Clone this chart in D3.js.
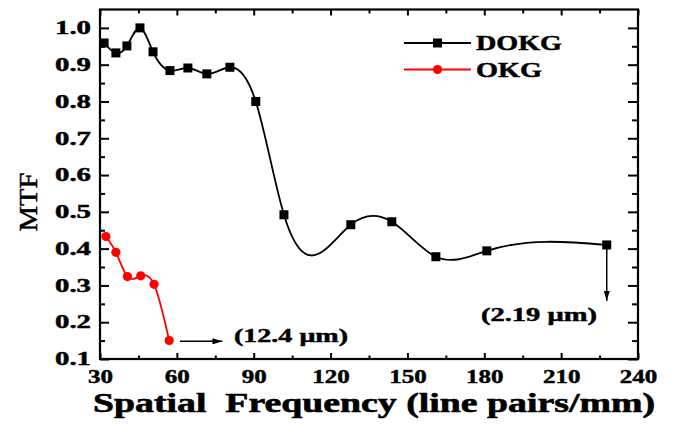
<!DOCTYPE html>
<html>
<head>
<meta charset="utf-8">
<script src="https://cdn.jsdelivr.net/npm/d3@7"></script>
<style>
    body { margin: 0; background: #fff; }
    svg text { font-family: "Times New Roman", "Liberation Serif", serif; font-weight: bold; fill: #000;
               stroke: #000; stroke-width: 0.45px; }
    .axis path, .axis line { stroke: #000; }
</style>
</head>
<body>
<div id="svgDiv"></div>
<script>
// data
var dokgFreq = [31.6, 36.2, 40.5, 45.6, 50.7, 57.3, 64.3, 71.7, 80.7, 90.8, 101.8, 127.9, 143.9, 161.1, 181.0, 227.8];
var dokgMtf  = [0.959, 0.932, 0.951, 1.0, 0.935, 0.884, 0.891, 0.875, 0.893, 0.80, 0.492, 0.465, 0.473, 0.378, 0.394, 0.41];
var okgFreq  = [32.3, 36.2, 40.7, 45.9, 51.1, 57.0];
var okgMtf   = [0.433, 0.390, 0.324, 0.326, 0.303, 0.150];

var xTicks = [30, 60, 90, 120, 150, 180, 210, 240];
var xMinorTicks = [45, 75, 105, 135, 165, 195, 225];
var yTicks = [0.1, 0.2, 0.3, 0.4, 0.5, 0.6, 0.7, 0.8, 0.9, 1.0];
var yMinorTicks = [0.15, 0.25, 0.35, 0.45, 0.55, 0.65, 0.75, 0.85, 0.95];

var seriesNames = ["DOKG", "OKG"];
var seriesColors = ["#000000", "#ff0000"];

// annotations (data units)
var note1 = { text: "(12.4 \u03bcm)", x1: 61.2, x2: 77.8, y: 0.148, tx: 82.3, ty: 0.145 };
var note2 = { text: "(2.19 \u03bcm)", x: 227.8, y1: 0.40, y2: 0.258, tx: 178.7, ty: 0.203 };

var W = 675, H = 424;
var plot = { left: 100, right: 638, top: 9.5, bottom: 359 };

var svg = d3.select("#svgDiv").append("svg")
    .attr("width", W).attr("height", H);

var xScale = d3.scaleLinear().domain([30, 240]).range([plot.left, plot.right]);
var yScale = d3.scaleLinear().domain([0.1, 1.05]).range([plot.bottom, plot.top]);

svg.append("defs").append("marker")
    .attr("id", "head")
    .attr("viewBox", "0 0 10 6")
    .attr("refX", 10).attr("refY", 3)
    .attr("markerWidth", 10).attr("markerHeight", 6)
    .attr("markerUnits", "userSpaceOnUse")
    .attr("orient", "auto")
    .append("path").attr("d", "M0,0 L10,3 L0,6 Z").attr("fill", "#000");

// natural cubic spline of y over x (like the plotting program's spline connect)
function SplineX(context) { this._context = context; }
SplineX.prototype = {
    areaStart: function() {},
    areaEnd: function() {},
    lineStart: function() { this._x = []; this._y = []; },
    point: function(x, y) { this._x.push(+x); this._y.push(+y); },
    lineEnd: function() {
        var x = this._x, y = this._y, n = x.length, ctx = this._context;
        if (!n) return;
        ctx.moveTo(x[0], y[0]);
        if (n < 3) { for (var k = 1; k < n; k++) ctx.lineTo(x[k], y[k]); return; }
        var h = [], M = new Array(n).fill(0);
        for (var i = 0; i < n - 1; i++) h.push(x[i + 1] - x[i]);
        // tridiagonal solve, M[0] = M[n-1] = 0
        var a = [], b = [], c = [], r = [];
        for (i = 1; i < n - 1; i++) {
            a.push(h[i - 1]); b.push(2 * (h[i - 1] + h[i])); c.push(h[i]);
            r.push(6 * ((y[i + 1] - y[i]) / h[i] - (y[i] - y[i - 1]) / h[i - 1]));
        }
        var m = b.length;
        for (i = 1; i < m; i++) {
            var w = a[i] / b[i - 1];
            b[i] -= w * c[i - 1];
            r[i] -= w * r[i - 1];
        }
        M[m] = r[m - 1] / b[m - 1];
        for (i = m - 2; i >= 0; i--) M[i + 1] = (r[i] - c[i] * M[i + 2]) / b[i];
        for (i = 0; i < n - 1; i++) {
            var s = (y[i + 1] - y[i]) / h[i];
            var d0 = s - h[i] * (2 * M[i] + M[i + 1]) / 6;
            var d1 = s + h[i] * (M[i] + 2 * M[i + 1]) / 6;
            ctx.bezierCurveTo(x[i] + h[i] / 3, y[i] + d0 * h[i] / 3,
                              x[i + 1] - h[i] / 3, y[i + 1] - d1 * h[i] / 3,
                              x[i + 1], y[i + 1]);
        }
    }
};
function curveSplineX(context) { return new SplineX(context); }

drawAxes();
drawSeries(dokgFreq, dokgMtf, seriesColors[0], "square");
drawSeries(okgFreq, okgMtf, seriesColors[1], "circle");
drawLegend();
drawNotes();

// axes with inward ticks on all four sides
function drawAxes()
{
    var fmt = d3.format(".1f");
    // bottom
    var gb = svg.append("g").attr("class", "axis")
        .attr("transform", `translate(0,${plot.bottom})`)
        .call(d3.axisBottom(xScale).tickValues(xTicks).tickSize(-6).tickPadding(11).tickFormat(d3.format("d")));
    gb.selectAll("text").style("font-size", "19px")
        .attr("textLength", d => String(d).length * 12.5)
        .attr("lengthAdjust", "spacingAndGlyphs");
    svg.append("g").attr("class", "axis")
        .attr("transform", `translate(0,${plot.bottom})`)
        .call(d3.axisBottom(xScale).tickValues(xMinorTicks).tickSize(-3.5).tickFormat(""));
    // top
    svg.append("g").attr("class", "axis")
        .attr("transform", `translate(0,${plot.top})`)
        .call(d3.axisTop(xScale).tickValues(xTicks).tickSize(-6).tickFormat(""));
    svg.append("g").attr("class", "axis")
        .attr("transform", `translate(0,${plot.top})`)
        .call(d3.axisTop(xScale).tickValues(xMinorTicks).tickSize(-4).tickFormat(""));
    // left
    var gl = svg.append("g").attr("class", "axis")
        .attr("transform", `translate(${plot.left},0)`)
        .call(d3.axisLeft(yScale).tickValues(yTicks).tickSize(-9).tickPadding(9).tickFormat(fmt));
    gl.selectAll("text").style("font-size", "18px")
        .attr("textLength", 36)
        .attr("lengthAdjust", "spacingAndGlyphs");
    svg.append("g").attr("class", "axis")
        .attr("transform", `translate(${plot.left},0)`)
        .call(d3.axisLeft(yScale).tickValues(yMinorTicks).tickSize(-5).tickFormat(""));
    // right
    svg.append("g").attr("class", "axis")
        .attr("transform", `translate(${plot.right},0)`)
        .call(d3.axisRight(yScale).tickValues(yTicks).tickSize(-10).tickFormat(""));
    svg.append("g").attr("class", "axis")
        .attr("transform", `translate(${plot.right},0)`)
        .call(d3.axisRight(yScale).tickValues(yMinorTicks).tickSize(-6).tickFormat(""));

    svg.selectAll(".axis line").attr("stroke-width", 2);
    svg.selectAll(".axis path.domain").remove();

    // frame
    svg.append("rect")
        .attr("x", plot.left).attr("y", plot.top)
        .attr("width", plot.right - plot.left).attr("height", plot.bottom - plot.top)
        .attr("fill", "none").attr("stroke", "#000").attr("stroke-width", 2.2);

    // titles
    svg.append("text")
        .attr("x", 93).attr("y", 412)
        .attr("textLength", 562).attr("lengthAdjust", "spacingAndGlyphs")
        .style("font-size", "27px").style("stroke-width", "0.6px")
        .attr("xml:space", "preserve")
        .text("Spatial  Frequency (line pairs/mm)");
    svg.append("text")
        .attr("transform", "translate(37,202) rotate(-90)")
        .attr("text-anchor", "middle")
        .attr("textLength", 59).attr("lengthAdjust", "spacingAndGlyphs")
        .style("font-size", "26px").style("font-weight", "normal").style("stroke-width", "0.5px")
        .text("MTF");
}

// smooth line plus markers
function drawSeries(xs, ys, color, shape)
{
    var pts = xs.map((x, i) => [x, ys[i]]);
    var line = d3.line()
        .x(d => xScale(d[0]))
        .y(d => yScale(d[1]))
        .curve(curveSplineX);
    svg.append("path").datum(pts)
        .attr("d", line)
        .attr("fill", "none")
        .attr("stroke", color)
        .attr("stroke-width", 1.8);

    if (shape == "square") {
        svg.selectAll(null).data(pts).enter().append("rect")
            .attr("x", d => xScale(d[0]) - 4.5)
            .attr("y", d => yScale(d[1]) - 4.5)
            .attr("width", 9).attr("height", 9)
            .attr("fill", color);
    } else {
        svg.selectAll(null).data(pts).enter().append("circle")
            .attr("cx", d => xScale(d[0]))
            .attr("cy", d => yScale(d[1]))
            .attr("r", 4.6)
            .attr("fill", color);
    }
}

function drawLegend()
{
    var rows = [43, 69.5];
    var widths = [86, 66];
    seriesNames.forEach(function(name, i) {
        var g = svg.append("g").attr("transform", `translate(0,${rows[i]})`);
        g.append("line").attr("x1", 404).attr("x2", 471)
            .attr("stroke", seriesColors[i]).attr("stroke-width", 2);
        if (i == 0) {
            g.append("rect").attr("x", 433).attr("y", -4.5)
                .attr("width", 9).attr("height", 9).attr("fill", seriesColors[i]);
        } else {
            g.append("circle").attr("cx", 437.5).attr("r", 4.6).attr("fill", seriesColors[i]);
        }
        g.append("text").attr("x", 476).attr("y", 7)
            .attr("textLength", widths[i]).attr("lengthAdjust", "spacingAndGlyphs")
            .style("font-size", "20px")
            .text(name);
    });
}

function drawNotes()
{
    svg.append("line")
        .attr("x1", xScale(note1.x1)).attr("x2", xScale(note1.x2))
        .attr("y1", yScale(note1.y)).attr("y2", yScale(note1.y))
        .attr("stroke", "#000").attr("stroke-width", 1.5)
        .attr("marker-end", "url(#head)");
    svg.append("text")
        .attr("x", xScale(note1.tx)).attr("y", yScale(note1.ty))
        .attr("textLength", 114).attr("lengthAdjust", "spacingAndGlyphs")
        .style("font-size", "18px")
        .text(note1.text);

    svg.append("line")
        .attr("x1", xScale(note2.x)).attr("x2", xScale(note2.x))
        .attr("y1", yScale(note2.y1)).attr("y2", yScale(note2.y2))
        .attr("stroke", "#000").attr("stroke-width", 1.5)
        .attr("marker-end", "url(#head)");
    svg.append("text")
        .attr("x", xScale(note2.tx)).attr("y", yScale(note2.ty))
        .attr("textLength", 116).attr("lengthAdjust", "spacingAndGlyphs")
        .style("font-size", "18px")
        .text(note2.text);
}
</script>
</body>
</html>
